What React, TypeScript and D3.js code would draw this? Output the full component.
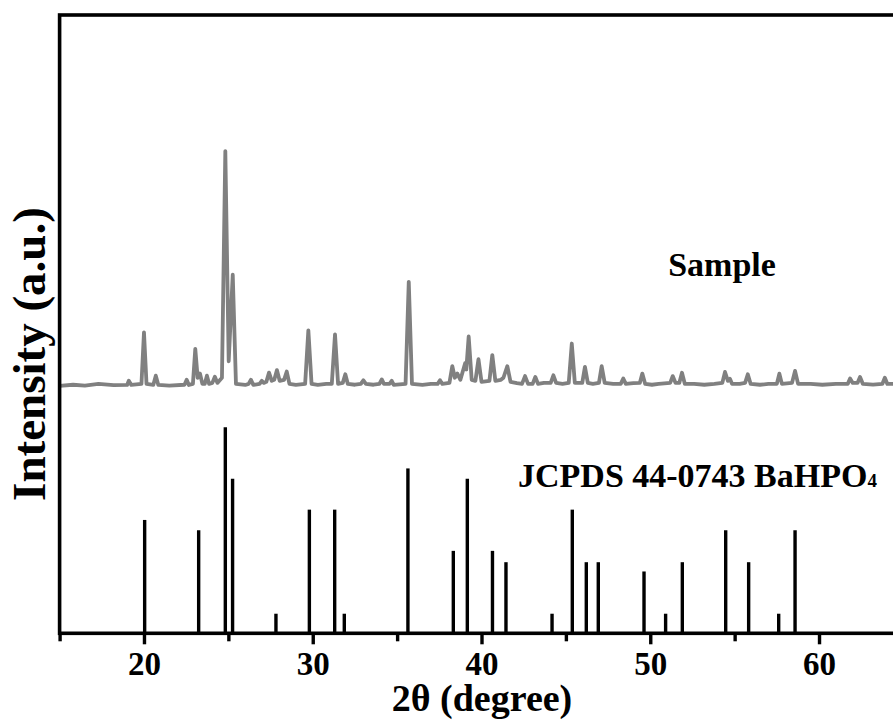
import { useEffect, useRef } from 'react';
import * as d3 from 'd3';

// reference pattern JCPDS 44-0743 BaHPO4: [2theta, relative intensity]
const refPeaks: [number, number][] = [
  [20.04, 55], [23.24, 50], [24.82, 100], [25.25, 75], [27.82, 9.5],
  [29.8, 60], [31.3, 60], [31.87, 9.5], [35.64, 80], [38.33, 40],
  [39.16, 75], [40.65, 40], [41.45, 34.5], [44.18, 9.5], [45.38, 60],
  [46.21, 34.5], [46.92, 34.5], [49.63, 30], [50.91, 9.5], [51.9, 34.5],
  [54.47, 50], [55.83, 34.5], [57.61, 9.5], [58.58, 50]
];

const samplePoints: [number, number][] = [
  [15, 120], [15.8, 120.6], [16.5, 120.2], [17.3, 121], [18.2, 120.4], [19.0, 120.5],
  [19.1, 122.5], [19.25, 120.5], [19.85, 121], [20.0, 146], [20.15, 121],
  [20.55, 120.5], [20.7, 125], [20.85, 120.5], [21.5, 120.2], [22.4, 120.6],
  [22.53, 123], [22.66, 120.5], [22.9, 121], [23.04, 138], [23.18, 124], [23.32, 126],
  [23.46, 121], [23.6, 121], [23.73, 125], [23.86, 121], [24.05, 121.5], [24.2, 124.5],
  [24.35, 121.5], [24.62, 124], [24.82, 234], [25.02, 132], [25.26, 174], [25.45, 121],
  [26.0, 120.5], [26.2, 121], [26.34, 123], [26.48, 120.5], [26.85, 121], [26.98, 122.5],
  [27.1, 121.5], [27.25, 122], [27.41, 126.5], [27.57, 122.5], [27.72, 123], [27.88, 127.7],
  [28.04, 122.5], [28.3, 123], [28.46, 127], [28.62, 121], [29.0, 120.5], [29.55, 121],
  [29.74, 147], [29.93, 121], [30.3, 120.5], [30.8, 121], [31.13, 121], [31.32, 145],
  [31.5, 121], [31.78, 121.5], [31.93, 125.7], [32.08, 121], [32.5, 120.6], [32.85, 121],
  [33.0, 122.8], [33.15, 121], [33.6, 120.6], [33.95, 121], [34.09, 123.2], [34.22, 121],
  [34.55, 121], [34.68, 122.5], [34.8, 120.5], [35.5, 121], [35.69, 170.5], [35.88, 121],
  [36.5, 120.5], [37.0, 121], [37.4, 121], [37.54, 122.8], [37.68, 121], [38.1, 121.5],
  [38.27, 129.6], [38.42, 124], [38.57, 126], [38.75, 123], [39.03, 131], [39.1, 128],
  [39.24, 144], [39.42, 123], [39.64, 122.5], [39.82, 133], [40.0, 122], [40.47, 122.5],
  [40.64, 135], [40.82, 122.5], [41.15, 123], [41.3, 124], [41.53, 129.6], [41.72, 122],
  [42.1, 121.4], [42.4, 121], [42.58, 124.8], [42.76, 121], [43.03, 121], [43.19, 124.4],
  [43.35, 121], [43.7, 121.5], [44.1, 121.5], [44.26, 125.2], [44.42, 121.5], [44.8, 121],
  [45.17, 121.5], [45.35, 140.6], [45.53, 121.5], [45.97, 121.5], [46.13, 129.3], [46.3, 121.5],
  [46.6, 121], [46.96, 121.5], [47.12, 129.6], [47.3, 121.5], [47.8, 121], [48.25, 121],
  [48.4, 123.6], [48.55, 121], [49.0, 121.4], [49.38, 121.5], [49.53, 126], [49.7, 121],
  [50.1, 120.6], [50.5, 121], [51.18, 121.5], [51.33, 124.8], [51.5, 121.5], [51.72, 121.5],
  [51.88, 126.4], [52.05, 121], [52.6, 121], [53.2, 120.6], [53.8, 121], [54.27, 121.5],
  [54.43, 126.8], [54.6, 122.5], [54.72, 123.5], [54.85, 121], [55.3, 121], [55.62, 121.5],
  [55.78, 125.7], [55.95, 121], [56.5, 120.6], [57.0, 121], [57.5, 121], [57.65, 126],
  [57.8, 121], [58.4, 121.5], [58.58, 127.3], [58.76, 121], [59.5, 121], [60.2, 120.6],
  [61.0, 121], [61.7, 121], [61.84, 123.6], [62.0, 121.5], [62.28, 121.5], [62.43, 124.4],
  [62.6, 121], [63.2, 120.7], [63.75, 121], [63.9, 124], [64.05, 121], [65, 121]
];

const majorTicks = [20, 30, 40, 50, 60];
const minorTicks = [15, 25, 35, 45, 55, 65];

export default function App() {
  const svgRef = useRef<SVGSVGElement>(null);

  useEffect(() => {
    if (!svgRef.current) return;

    const width = 893;
    const height = 720;
    const font = '"Liberation Serif", "Times New Roman", serif';

    d3.select(svgRef.current).selectAll('*').remove();

    const svg = d3.select(svgRef.current)
      .attr('width', width)
      .attr('height', height);

    const x = d3.scaleLinear().domain([15, 65]).range([59.6, 903.4]);
    const y = d3.scaleLinear().domain([0, 300]).range([633.3, 15]);

    // sample curve
    const line = d3.line<[number, number]>()
      .x(d => x(d[0]))
      .y(d => y(d[1]));

    svg.append('path')
      .datum(samplePoints)
      .attr('d', line)
      .attr('fill', 'none')
      .attr('stroke', '#808080')
      .attr('stroke-width', 3.8)
      .attr('stroke-linejoin', 'round');

    // reference sticks
    svg.append('g')
      .selectAll('line')
      .data(refPeaks)
      .join('line')
      .attr('x1', d => x(d[0]))
      .attr('x2', d => x(d[0]))
      .attr('y1', y(0))
      .attr('y2', d => y(d[1]))
      .attr('stroke', '#000')
      .attr('stroke-width', 3.4);

    // frame
    svg.append('rect')
      .attr('x', x(15))
      .attr('y', y(300))
      .attr('width', x(65) - x(15))
      .attr('height', y(0) - y(300))
      .attr('fill', 'none')
      .attr('stroke', '#000')
      .attr('stroke-width', 3.6);

    // x axis
    const axis = svg.append('g')
      .attr('transform', `translate(0,${y(0)})`)
      .call(d3.axisBottom(x).tickValues(majorTicks).tickSize(11).tickPadding(7).tickFormat(d3.format('d')));
    axis.select('.domain').remove();
    axis.selectAll('line').attr('stroke-width', 3.4);
    axis.selectAll('text')
      .attr('font-family', font)
      .attr('font-weight', 'bold')
      .attr('font-size', 33)
      .attr('fill', '#000');

    const minor = svg.append('g')
      .attr('transform', `translate(0,${y(0)})`)
      .call(d3.axisBottom(x).tickValues(minorTicks).tickSize(8).tickFormat(() => ''));
    minor.select('.domain').remove();
    minor.selectAll('line').attr('stroke-width', 3.4);

    svg.append('text')
      .attr('x', 482)
      .attr('y', 711)
      .attr('text-anchor', 'middle')
      .attr('font-family', font)
      .attr('font-weight', 'bold')
      .attr('font-size', 38)
      .text('2θ (degree)');

    svg.append('text')
      .attr('transform', 'rotate(-90)')
      .attr('x', -354)
      .attr('y', 45)
      .attr('text-anchor', 'middle')
      .attr('font-family', font)
      .attr('font-weight', 'bold')
      .attr('font-size', 47)
      .text('Intensity (a.u.)');

    svg.append('text')
      .attr('x', 722)
      .attr('y', 276)
      .attr('text-anchor', 'middle')
      .attr('font-family', font)
      .attr('font-weight', 'bold')
      .attr('font-size', 34)
      .text('Sample');

    const label = svg.append('text')
      .attr('x', 518)
      .attr('y', 487)
      .attr('font-family', font)
      .attr('font-weight', 'bold')
      .attr('font-size', 34)
      .text('JCPDS 44-0743 BaHPO');
    label.append('tspan')
      .attr('font-size', 19)
      .text('4');
  }, []);

  return (
    <div style={{ position: 'absolute', left: 0, top: 0, background: 'white' }}>
      <svg ref={svgRef} style={{ display: 'block' }}></svg>
    </div>
  );
}
